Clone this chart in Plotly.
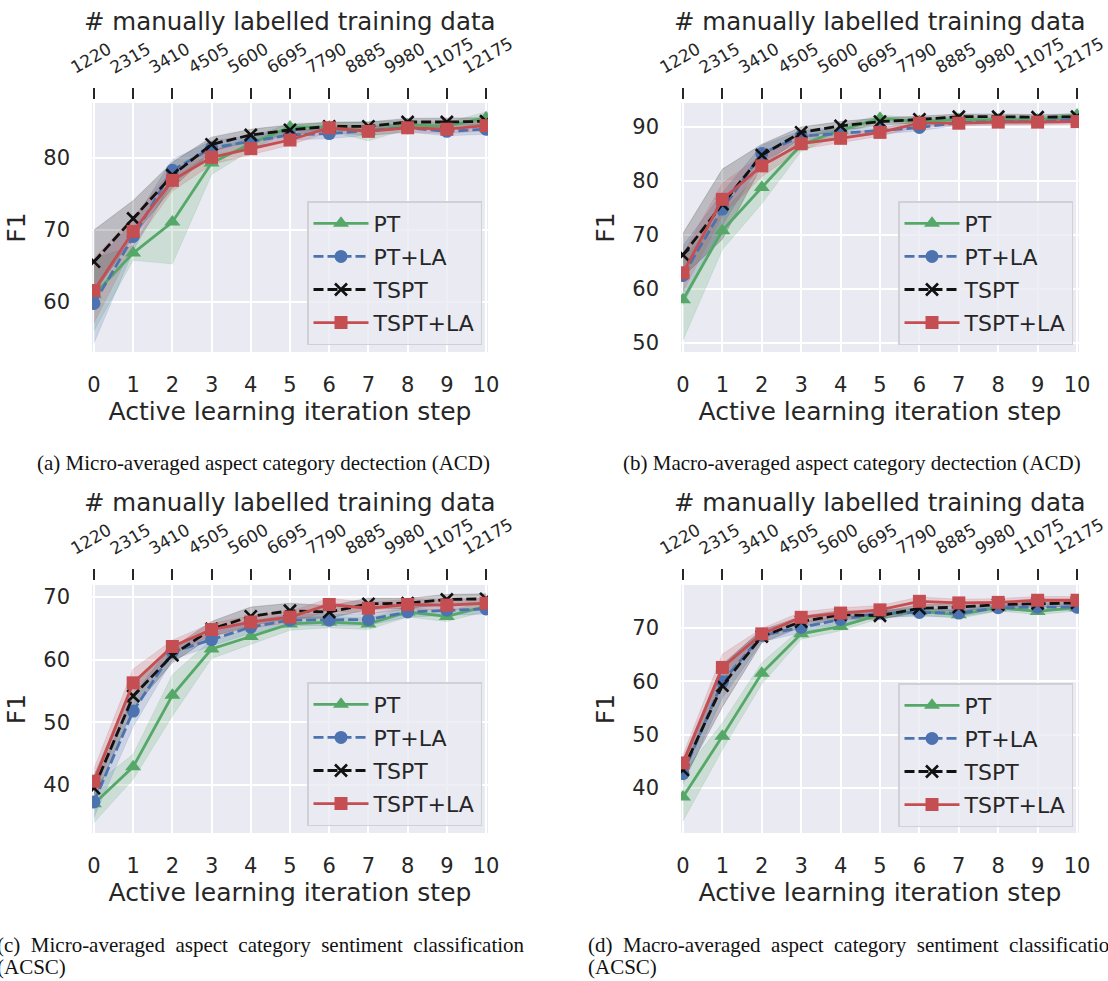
import plotly.graph_objects as go

# ---------------- data ----------------
steps = list(range(11))
n_labelled = [1220, 2315, 3410, 4505, 5600, 6695, 7790, 8885, 9980, 11075, 12175]
series_names = ["PT", "PT+LA", "TSPT", "TSPT+LA"]
top_title = "# manually labelled training data"
bottom_title = "Active learning iteration step"
y_title = "F1"

# (a) micro ACD
a_pt = [61.0, 66.8, 71.1, 79.3, 82.0, 84.3, 84.3, 83.7, 84.6, 84.4, 85.6]
a_pt_sd = [5.0, 1.0, 5.8, 1.6, 0.9, 0.5, 0.6, 1.3, 0.6, 0.5, 0.8]
a_ptla = [59.8, 69.1, 78.3, 81.4, 82.3, 83.2, 83.4, 83.8, 84.2, 83.7, 84.0]
a_ptla_sd = [5.5, 2.0, 1.5, 1.0, 0.8, 0.7, 0.7, 0.6, 0.6, 0.6, 0.7]
a_tspt = [65.6, 71.6, 77.6, 81.9, 83.2, 83.9, 84.4, 84.4, 85.0, 85.0, 85.1]
a_tspt_sd = [4.4, 2.5, 1.8, 1.0, 0.8, 0.7, 0.6, 0.6, 0.5, 0.5, 0.5]
a_tsptla = [61.6, 69.8, 76.9, 80.1, 81.3, 82.5, 84.2, 83.7, 84.2, 84.0, 84.5]
a_tsptla_sd = [4.5, 2.0, 1.5, 1.0, 0.8, 0.7, 0.6, 0.6, 0.6, 0.6, 0.7]

# (b) macro ACD
b_pt = [58.0, 70.8, 78.8, 86.7, 89.4, 91.6, 91.0, 91.4, 91.3, 91.3, 92.2]
b_pt_sd = [7.5, 3.5, 3.0, 1.2, 0.8, 0.6, 0.6, 0.5, 0.5, 0.5, 0.5]
b_ptla = [62.5, 74.8, 85.1, 88.3, 88.8, 89.4, 89.9, 90.8, 91.0, 91.0, 91.3]
b_ptla_sd = [5.5, 3.0, 1.5, 1.0, 0.8, 0.7, 0.6, 0.5, 0.5, 0.5, 0.5]
b_tspt = [66.3, 75.7, 84.8, 89.0, 90.2, 91.0, 91.4, 91.9, 91.9, 91.8, 91.9]
b_tspt_sd = [4.0, 6.5, 2.0, 1.0, 0.8, 0.7, 0.6, 0.5, 0.5, 0.5, 0.5]
b_tsptla = [63.0, 76.6, 82.8, 86.9, 87.9, 89.0, 90.7, 90.7, 90.9, 90.9, 91.0]
b_tsptla_sd = [3.5, 3.0, 2.0, 1.0, 0.8, 0.7, 0.6, 0.5, 0.5, 0.5, 0.5]

# (c) micro ACSC
c_pt = [37.0, 42.9, 54.3, 61.7, 63.7, 65.7, 66.0, 65.7, 67.6, 66.9, 68.5]
c_pt_sd = [3.0, 2.0, 3.3, 1.5, 1.2, 1.0, 0.9, 0.9, 0.8, 0.8, 0.8]
c_ptla = [37.3, 51.8, 61.2, 63.2, 65.2, 66.3, 66.3, 66.4, 67.6, 67.9, 68.1]
c_ptla_sd = [2.5, 2.5, 1.2, 1.0, 1.0, 0.9, 0.9, 0.9, 0.8, 0.8, 0.8]
c_tspt = [39.5, 54.2, 60.7, 64.9, 66.9, 67.8, 67.6, 68.9, 69.0, 69.6, 69.7]
c_tspt_sd = [2.0, 2.0, 1.2, 1.2, 1.5, 1.2, 1.0, 0.9, 0.8, 0.8, 0.8]
c_tsptla = [40.6, 56.3, 62.1, 64.8, 66.0, 66.8, 68.8, 68.2, 68.8, 68.7, 69.0]
c_tsptla_sd = [2.0, 2.2, 1.0, 1.0, 1.0, 0.9, 1.0, 0.9, 0.8, 0.8, 0.8]

# (d) macro ACSC
d_pt = [38.3, 49.7, 61.5, 68.9, 70.3, 72.5, 73.1, 72.5, 73.8, 73.1, 73.8]
d_pt_sd = [4.5, 2.5, 2.0, 1.0, 0.8, 0.7, 0.7, 0.7, 0.6, 0.6, 0.6]
d_ptla = [42.7, 59.9, 68.6, 70.1, 71.6, 72.8, 72.9, 72.8, 73.8, 73.9, 73.9]
d_ptla_sd = [2.0, 3.0, 1.2, 1.0, 0.8, 0.7, 0.7, 0.7, 0.6, 0.6, 0.6]
d_tspt = [43.4, 59.2, 68.4, 71.2, 72.5, 72.3, 73.7, 73.9, 74.4, 74.6, 74.7]
d_tspt_sd = [2.0, 4.0, 1.2, 1.0, 0.8, 0.7, 0.7, 0.7, 0.6, 0.6, 0.6]
d_tsptla = [44.7, 62.6, 68.9, 72.0, 72.8, 73.4, 75.0, 74.7, 74.8, 75.2, 75.2]
d_tsptla_sd = [1.5, 2.5, 1.0, 1.0, 1.0, 0.8, 0.8, 0.7, 0.7, 0.7, 0.7]

captions = [
    ["(a) Micro-averaged aspect category dectection (ACD)"],
    ["(b) Macro-averaged aspect category dectection (ACD)"],
    ["(c)  Micro-averaged  aspect  category  sentiment  classification", "(ACSC)"],
    ["(d)  Macro-averaged  aspect  category  sentiment  classification", "(ACSC)"],
]

# ---------------- styling / layout ----------------
W, H = 1108, 981
TXT = "#262626"
FONT = "DejaVu Sans"
SERIF = "Liberation Serif, Times New Roman, serif"

styles = [
    dict(color="#55a868", fill="rgba(85,168,104,0.2)", dash="solid", symbol="triangle-up", size=14),
    dict(color="#4c72b0", fill="rgba(76,114,176,0.2)", dash="10px,4px", symbol="circle", size=13),
    dict(color="#111111", fill="rgba(0,0,0,0.2)", dash="10px,4px", symbol="x-thin", size=12),
    dict(color="#c44e52", fill="rgba(196,78,82,0.2)", dash="solid", symbol="square", size=13),
]

panels = [
    dict(means=[a_pt, a_ptla, a_tspt, a_tsptla], sds=[a_pt_sd, a_ptla_sd, a_tspt_sd, a_tsptla_sd],
         xpx=(92, 488), ypx=(103, 352), yr=(53.06, 87.64), tick_y=99, title_y=22,
         leg=(482, 201), cap=(35, [463])),
    dict(means=[b_pt, b_ptla, b_tspt, b_tsptla], sds=[b_pt_sd, b_ptla_sd, b_tspt_sd, b_tsptla_sd],
         xpx=(681, 1079), ypx=(103, 352), yr=(48.33, 94.44), tick_y=99, title_y=22,
         leg=(1073, 201), cap=(621, [463])),
    dict(means=[c_pt, c_ptla, c_tspt, c_tsptla], sds=[c_pt_sd, c_ptla_sd, c_tspt_sd, c_tsptla_sd],
         xpx=(92, 488), ypx=(585, 833), yr=(32.34, 71.91), tick_y=580, title_y=502,
         leg=(482, 682), cap=(-5, [945, 967])),
    dict(means=[d_pt, d_ptla, d_tspt, d_tsptla], sds=[d_pt_sd, d_ptla_sd, d_tspt_sd, d_tsptla_sd],
         xpx=(681, 1079), ypx=(585, 833), yr=(31.56, 78.06), tick_y=580, title_y=502,
         leg=(1073, 683), cap=(586, [945, 967])),
]

fig = go.Figure()
layout = dict(
    width=W, height=H, autosize=False,
    margin=dict(l=0, r=0, t=0, b=0, autoexpand=False),
    paper_bgcolor="white", plot_bgcolor="#eaeaf2",
    font=dict(family=FONT, color=TXT),
    showlegend=True, annotations=[],
)

XR = [-0.05, 10.05]

for i, p in enumerate(panels):
    k = i + 1
    bx_name, tx_name = f"xaxis{2 * k - 1}", f"xaxis{2 * k}"
    bx_ref = "x" if k == 1 else f"x{2 * k - 1}"
    tx_ref = f"x{2 * k}"
    y_name = f"yaxis{k}"
    y_ref = "y" if k == 1 else f"y{k}"
    leg_name = "legend" if k == 1 else f"legend{k}"
    xd = [p["xpx"][0] / W, p["xpx"][1] / W]
    yd = [1 - p["ypx"][1] / H, 1 - p["ypx"][0] / H]

    # bands
    for m, s, st in zip(p["means"], p["sds"], styles):
        hi = [a + b for a, b in zip(m, s)]
        lo = [a - b for a, b in zip(m, s)]
        fig.add_trace(go.Scatter(
            x=steps + steps[::-1], y=hi + lo[::-1], fill="toself", fillcolor=st["fill"],
            line=dict(width=0.8, color=st["fill"]), mode="lines", hoverinfo="skip",
            showlegend=False, xaxis=bx_ref, yaxis=y_ref))
    # lines
    for name, m, st in zip(series_names, p["means"], styles):
        if st["symbol"] == "x-thin":
            mk = dict(symbol="x-thin", size=st["size"], color=st["color"],
                      line=dict(width=2.6, color=st["color"]))
        else:
            mk = dict(symbol=st["symbol"], size=st["size"], color=st["color"], line=dict(width=0))
        fig.add_trace(go.Scatter(
            x=steps, y=m, name=name, mode="lines+markers",
            line=dict(color=st["color"], width=2.8, dash=st["dash"]), marker=mk,
            xaxis=bx_ref, yaxis=y_ref, legend=leg_name, legendgroup=f"{k}-{name}"))
    # invisible carrier so the top (training-size) axis is drawn
    fig.add_trace(go.Scatter(
        x=steps, y=p["means"][0], mode="markers", marker=dict(opacity=0, size=1),
        hoverinfo="skip", showlegend=False, xaxis=tx_ref, yaxis=y_ref))

    layout[bx_name] = dict(
        domain=xd, anchor=y_ref, range=XR, tickmode="array", tickvals=steps,
        ticktext=[str(s) for s in steps], showgrid=True, gridcolor="white", gridwidth=1.8,
        zeroline=False, showline=False, ticks="", ticklabelstandoff=18, automargin=False,
        tickfont=dict(size=21, color=TXT),
        title=dict(text=bottom_title, font=dict(size=25, color=TXT), standoff=6),
    )
    layout[tx_name] = dict(
        overlaying=bx_ref, side="top", anchor="free", position=1 - p["tick_y"] / H,
        range=XR, tickmode="array", tickvals=steps, ticktext=[str(v) for v in n_labelled],
        tickangle=-30, ticks="outside", ticklen=11, tickwidth=2.2, tickcolor=TXT,
        ticklabelshift=-23, ticklabelstandoff=6,
        showgrid=False, zeroline=False, showline=False, automargin=False,
        tickfont=dict(size=17, color=TXT),
    )
    layout[y_name] = dict(
        domain=yd, anchor=bx_ref, range=list(p["yr"]), dtick=10, tick0=0,
        showgrid=True, gridcolor="white", gridwidth=1.8, zeroline=False, showline=False,
        ticks="", ticklabelstandoff=21, automargin=False, tickfont=dict(size=21, color=TXT),
        title=dict(text=y_title, font=dict(size=25, color=TXT), standoff=10),
    )
    layout[leg_name] = dict(
        x=p["leg"][0] / W, xanchor="right", y=1 - p["leg"][1] / H, yanchor="top",
        bgcolor="rgba(234,234,242,0.8)", bordercolor="#d0d0d6", borderwidth=1.5,
        font=dict(size=22, color=TXT, family=FONT), itemwidth=55, tracegroupgap=1.5,
    )
    # top-axis title, centred over the panel
    layout["annotations"].append(dict(
        text=top_title, x=(xd[0] + xd[1]) / 2, y=1 - p["title_y"] / H, xref="paper", yref="paper",
        xanchor="center", yanchor="middle", showarrow=False,
        font=dict(family=FONT, size=24.5, color=TXT)))
    cx, cys = p["cap"]
    for line, cy in zip(captions[i], cys):
        layout["annotations"].append(dict(
            text=line.replace("  ", "\u00a0\u00a0"), x=cx / W, y=1 - cy / H, xref="paper", yref="paper",
            xanchor="left", yanchor="middle", showarrow=False,
            font=dict(family=SERIF, size=21, color="#111111")))

fig.update_layout(**layout)
fig.write_html("out.html", config={"displayModeBar": False},
               post_script="document.body.style.margin='0';document.body.style.padding='0';")
